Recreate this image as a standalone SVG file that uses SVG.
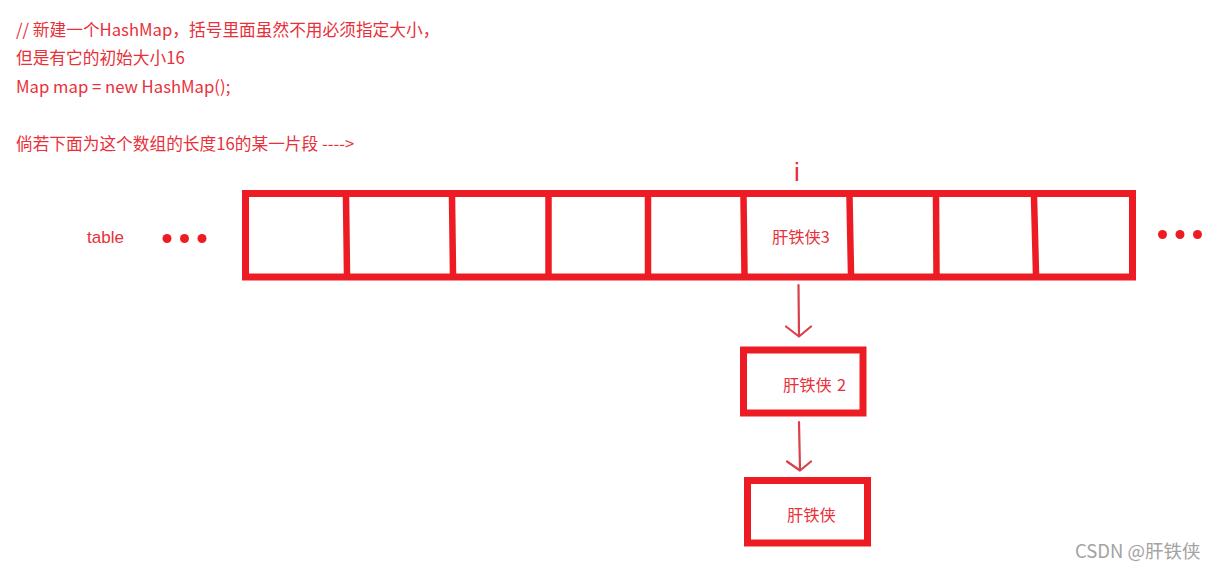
<svg xmlns="http://www.w3.org/2000/svg" width="1222" height="570" viewBox="0 0 1222 570">
<defs>
<style>
.t{font-family:"Noto Sans CJK SC","Liberation Sans",sans-serif;font-size:16.7px;fill:#e8303a}
.n{font-size:16.3px}
.box{fill:none;stroke:#ed1c24;stroke-width:7}
.div{stroke:#ed1c24;stroke-width:6.5}
.dot{fill:#ed1c24}
.arr{fill:none;stroke:#d9404c;stroke-width:2.2;stroke-linecap:round;stroke-linejoin:round}
.wm{font-family:"Noto Sans CJK SC","Liberation Sans",sans-serif;font-size:18.5px;fill:#a3a3a3}
</style>
</defs>
<rect width="1222" height="570" fill="#fff"/>
<g id="notes">
<text class="t" x="16" y="36">// 新建一个HashMap，括号里面虽然不用必须指定大小，</text>
<text class="t" x="16" y="64">但是有它的初始大小16</text>
<text class="t" x="16" y="93">Map map = new HashMap();</text>
<text class="t" x="16" y="150">倘若下面为这个数组的长度16的某一片段 ----&gt;</text>
</g>
<g id="table-label">
<text class="t" x="87" y="243" style="font-family:'Liberation Sans',sans-serif;font-size:17px">table</text>
<circle class="dot" cx="167" cy="238.5" r="4.5"/>
<circle class="dot" cx="184.5" cy="238.5" r="4.5"/>
<circle class="dot" cx="202" cy="238.5" r="4.5"/>
</g>
<g id="table">
<rect class="box" x="245.5" y="193.5" width="887" height="83.5"/>
<line class="div" x1="346" y1="197" x2="347" y2="274"/>
<line class="div" x1="452" y1="197" x2="453" y2="274"/>
<line class="div" x1="548.5" y1="197" x2="548.5" y2="274"/>
<line class="div" x1="648" y1="197" x2="648" y2="274"/>
<line class="div" x1="743.5" y1="197" x2="744.5" y2="274"/>
<line class="div" x1="849.5" y1="197" x2="851" y2="274"/>
<line class="div" x1="936" y1="197" x2="936.5" y2="274"/>
<line class="div" x1="1034" y1="197" x2="1036" y2="274"/>
<text class="t n" x="772" y="243">肝铁侠3</text>
<circle class="dot" cx="1162.5" cy="234.5" r="4.5"/>
<circle class="dot" cx="1180" cy="234.5" r="4.5"/>
<circle class="dot" cx="1197.5" cy="234.5" r="4.5"/>
</g>
<g id="index-i">
<text class="t" x="794" y="181" style="font-family:'Liberation Sans',sans-serif;font-size:26px">i</text>
</g>
<g id="node2">
<rect class="box" x="743.5" y="350" width="119.5" height="63"/>
<text class="t n" x="783" y="391">肝铁侠<tspan x="837">2</tspan></text>
</g>
<g id="node1">
<rect class="box" x="747.5" y="480.5" width="120" height="62.5"/>
<text class="t n" x="787" y="521">肝铁侠</text>
</g>
<g id="connectors">
<path class="arr" d="M798.5 285 L799 336 M786 326.5 L799 336.5 L811 326.5"/>
<path class="arr" d="M799 422 L800 470 M787 461.5 L800 470.5 L811 461.5"/>
</g>
<g id="watermark">
<text class="wm" x="1075" y="558">CSDN @肝铁侠</text>
</g>
</svg>
